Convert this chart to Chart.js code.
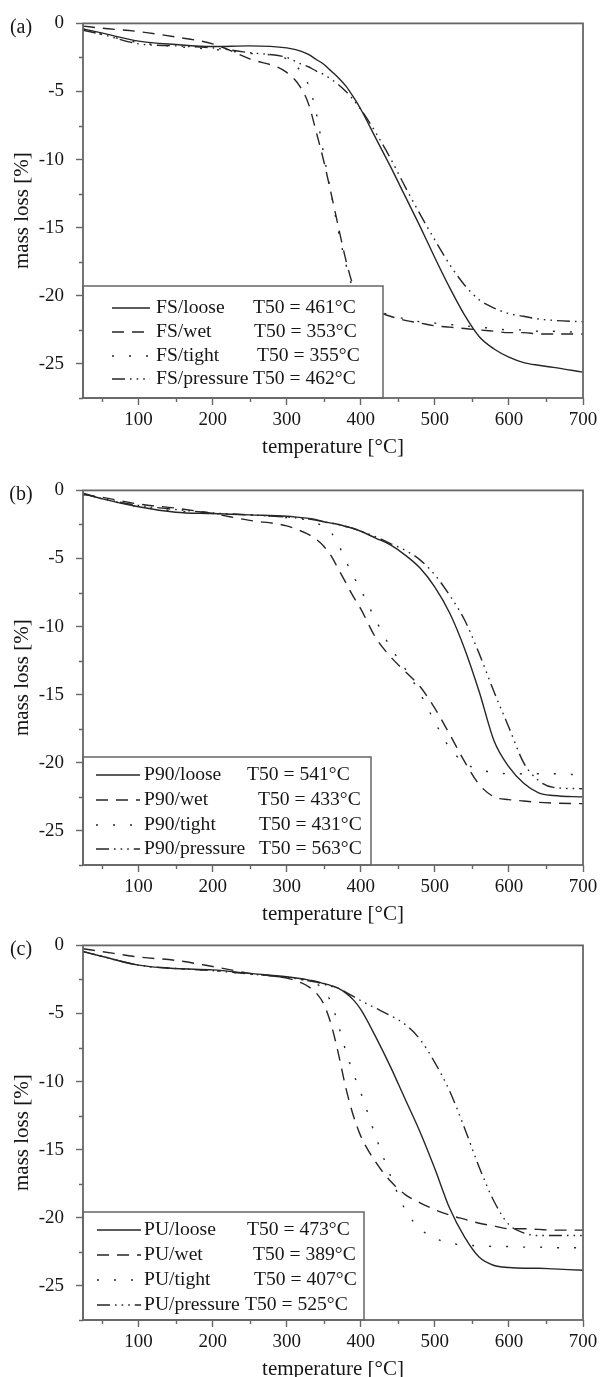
<!DOCTYPE html>
<html>
<head>
<meta charset="utf-8">
<script src="https://cdn.jsdelivr.net/npm/chart.js@4.4.1/dist/chart.umd.min.js"></script>
<style>
  html, body { margin: 0; padding: 0; background: #fff; }
  body { width: 604px; height: 1377px; overflow: hidden; position: relative; }
  canvas { position: absolute; left: 0; }
</style>
</head>
<body>
<canvas id="panelA" width="604" height="460" style="top:0px"></canvas>
<canvas id="panelB" width="604" height="460" style="top:467px"></canvas>
<canvas id="panelC" width="604" height="460" style="top:922px"></canvas>
<script>
// ---------- data ----------
const temps = [25, 50, 100, 150, 200, 250, 300, 320, 330, 340, 350, 360, 370, 380, 390, 400, 420, 440, 460, 480, 500, 520, 540, 560, 580, 600, 620, 640, 660, 700];
const xTickLabels = [100, 200, 300, 400, 500, 600, 700];
const yTickLabels = [0, -5, -10, -15, -20, -25];
const conditions = ['loose', 'wet', 'tight', 'pressure'];

// (a) FS
const fsLoose    = [-0.4, -0.7, -1.3, -1.55, -1.7, -1.65, -1.8, -2.05, -2.3, -2.65, -3.0, -3.5, -4.0, -4.6, -5.4, -6.3, -8.4, -10.5, -12.7, -14.9, -17.2, -19.4, -21.4, -23.0, -23.9, -24.5, -24.9, -25.1, -25.25, -25.6];
const fsWet      = [-0.2, -0.35, -0.6, -1.0, -1.5, -2.6, -3.6, -4.8, -6.0, -8.0, -10.1, -12.5, -15.0, -17.4, -19.3, -20.4, -21.1, -21.5, -21.8, -22.0, -22.2, -22.3, -22.4, -22.5, -22.6, -22.7, -22.7, -22.8, -22.8, -22.8];
const fsTight    = [-0.4, -0.8, -1.4, -1.7, -1.9, -2.2, -2.6, -3.6, -4.6, -6.6, -9.6, -12.5, -15.3, -17.7, -19.6, -20.6, -21.1, -21.4, -21.7, -21.9, -22.0, -22.1, -22.2, -22.3, -22.4, -22.5, -22.5, -22.6, -22.6, -22.7];
const fsPressure = [-0.5, -0.8, -1.5, -1.65, -1.8, -2.15, -2.5, -3.0, -3.2, -3.5, -3.75, -4.1, -4.5, -5.0, -5.6, -6.3, -8.0, -9.9, -12.0, -14.0, -15.9, -17.7, -19.2, -20.3, -20.9, -21.3, -21.5, -21.7, -21.8, -21.9];
const fsT50 = [461, 353, 355, 462];

// (b) P90
const p90Loose    = [-0.2, -0.6, -1.2, -1.6, -1.7, -1.8, -1.9, -2.0, -2.05, -2.15, -2.3, -2.4, -2.5, -2.65, -2.8, -3.0, -3.5, -4.0, -4.75, -5.7, -7.1, -9.0, -11.6, -14.8, -18.4, -20.3, -21.5, -22.2, -22.4, -22.5];
const p90Wet      = [-0.3, -0.5, -1.0, -1.3, -1.7, -2.2, -2.6, -3.0, -3.25, -3.6, -4.1, -4.8, -5.8, -6.8, -7.8, -8.7, -10.8, -12.2, -13.3, -14.4, -16.0, -17.9, -19.9, -21.6, -22.5, -22.7, -22.8, -22.9, -22.95, -23.0];
const p90Tight    = [-0.3, -0.6, -1.2, -1.5, -1.7, -1.8, -2.0, -2.1, -2.2, -2.4, -2.65, -3.1, -4.0, -5.2, -6.3, -7.3, -9.5, -11.5, -13.1, -14.9, -17.0, -18.9, -20.0, -20.5, -20.7, -20.8, -20.8, -20.8, -20.8, -20.9];
const p90Pressure = [-0.25, -0.6, -1.1, -1.4, -1.65, -1.8, -1.95, -2.05, -2.1, -2.2, -2.3, -2.4, -2.5, -2.65, -2.8, -3.0, -3.4, -3.9, -4.4, -5.1, -6.2, -7.7, -9.5, -12.0, -14.8, -17.4, -20.0, -21.3, -21.8, -21.9];
const p90T50 = [541, 433, 431, 563];

// (c) PU
const puLoose    = [-0.45, -0.8, -1.45, -1.7, -1.8, -2.05, -2.3, -2.45, -2.55, -2.65, -2.8, -2.95, -3.15, -3.5, -4.0, -4.7, -6.7, -8.9, -11.3, -13.7, -16.4, -19.3, -21.4, -22.9, -23.5, -23.65, -23.7, -23.7, -23.75, -23.85];
const puWet      = [-0.25, -0.45, -0.85, -1.1, -1.55, -2.05, -2.4, -2.75, -3.05, -3.5, -4.3, -5.8, -8.0, -10.5, -12.5, -14.0, -15.9, -17.3, -18.3, -18.9, -19.4, -19.8, -20.1, -20.4, -20.6, -20.8, -20.8, -20.85, -20.9, -20.9];
const puTight    = [-0.45, -0.8, -1.45, -1.7, -1.85, -2.1, -2.35, -2.5, -2.6, -2.8, -3.3, -4.2, -5.9, -7.8, -9.4, -10.8, -14.0, -16.9, -19.4, -20.8, -21.5, -21.85, -22.0, -22.05, -22.1, -22.1, -22.15, -22.15, -22.2, -22.2];
const puPressure = [-0.45, -0.8, -1.45, -1.7, -1.85, -2.1, -2.35, -2.5, -2.6, -2.7, -2.85, -3.0, -3.15, -3.45, -3.75, -4.05, -4.6, -5.15, -5.8, -6.9, -8.6, -10.7, -13.4, -16.3, -18.8, -20.5, -21.1, -21.3, -21.3, -21.3];
const puT50 = [473, 389, 407, 525];

// ---------- styles ----------
const SERIF = "'Liberation Serif', 'Times New Roman', serif";
const TEXT = '#161616';
const FRAME = '#666666';
const LINE = '#262626';
const dashes = [[], [12, 8], [2, 15], [13, 5, 1.6, 5, 1.6, 5, 1.6, 5]];

const isMajorX = v => xTickLabels.includes(v);
const isMajorY = v => yTickLabels.some(t => Math.abs(t - v) < 1e-6);

const decor = {
  id: 'decor',
  afterDatasetsDraw(chart, args, o) {
    const { ctx, chartArea: a } = chart;
    const L = o.legend;
    ctx.save();
    // legend box
    ctx.fillStyle = '#fff';
    ctx.fillRect(a.left, L.top, L.right - a.left, a.bottom - L.top);
    ctx.strokeStyle = FRAME;
    ctx.lineWidth = 1.5;
    ctx.strokeRect(a.left, L.top, L.right - a.left, a.bottom - L.top);
    chart.data.datasets.forEach((d, i) => {
      const y = L.rows[i];
      ctx.setLineDash(d.borderDash);
      ctx.lineWidth = d.borderWidth;
      ctx.strokeStyle = d.borderColor;
      ctx.beginPath();
      ctx.moveTo(L.x0, y);
      ctx.lineTo(L.x1, y);
      ctx.stroke();
      ctx.setLineDash([]);
      ctx.fillStyle = TEXT;
      ctx.font = '19.6px ' + SERIF;
      ctx.textBaseline = 'middle';
      ctx.textAlign = 'left';
      ctx.fillText(d.label, L.tx, y);
      ctx.fillText('T50 = ' + o.t50[i] + '°C', L.t50x[i], y);
    });
    // minor ticks (shorter)
    ctx.setLineDash([]);
    ctx.strokeStyle = FRAME;
    ctx.lineWidth = 1.4;
    const xs = chart.scales.x, ys = chart.scales.y;
    ctx.beginPath();
    xs.ticks.forEach(t => {
      if (!isMajorX(t.value)) {
        const px = Math.round(xs.getPixelForValue(t.value)) + 0.5;
        ctx.moveTo(px, a.bottom); ctx.lineTo(px, a.bottom + 4);
      }
    });
    ys.ticks.forEach(t => {
      if (!isMajorY(t.value)) {
        const py = Math.round(ys.getPixelForValue(t.value)) + 0.5;
        ctx.moveTo(a.left, py); ctx.lineTo(a.left - 4, py);
      }
    });
    ctx.stroke();
    // plot frame
    ctx.lineWidth = 1.8;
    ctx.strokeRect(a.left, a.top, a.right - a.left, a.bottom - a.top);
    // panel label
    ctx.fillStyle = TEXT;
    ctx.font = '20px ' + SERIF;
    ctx.textAlign = 'center';
    ctx.textBaseline = 'middle';
    ctx.fillText(o.label, 21, a.top + 4);
    ctx.restore();
  }
};

function buildPanel(id, label, prefix, series, t50, legend) {
  const datasets = series.map((vals, i) => ({
    label: prefix + '/' + conditions[i],
    data: temps.map((t, j) => ({ x: t, y: vals[j] })),
    borderColor: LINE,
    borderWidth: 1.4,
    borderDash: dashes[i],
    pointRadius: 0,
    fill: false,
    cubicInterpolationMode: 'monotone'
  }));
  const tickFont = { family: SERIF, size: 19 };
  const titleFont = { family: SERIF, size: 21 };
  new Chart(document.getElementById(id), {
    type: 'line',
    data: { datasets },
    options: {
      responsive: false,
      animation: false,
      events: [],
      layout: { padding: { top: 18, right: 21, left: 0, bottom: 0 } },
      plugins: {
        legend: { display: false },
        tooltip: { enabled: false },
        decor: { label, t50, legend }
      },
      scales: {
        x: {
          type: 'linear', min: 25, max: 700,
          afterFit: s => { s.height = 62; },
          ticks: {
            stepSize: 50, includeBounds: false, autoSkip: false, maxRotation: 0, minRotation: 0,
            padding: 4, color: TEXT, font: tickFont,
            callback: v => isMajorX(v) ? String(v) : ''
          },
          grid: {
            drawOnChartArea: false, drawTicks: true, tickLength: 7, tickWidth: 1.4,
            tickColor: c => (c.tick && isMajorX(c.tick.value)) ? FRAME : 'rgba(0,0,0,0)'
          },
          border: { display: false },
          title: { display: true, text: 'temperature [°C]', color: TEXT, font: titleFont, padding: { top: 0, bottom: 0 } }
        },
        y: {
          type: 'linear', min: -27.5, max: 0,
          afterFit: s => { s.width = 83; },
          ticks: {
            stepSize: 2.5, includeBounds: false, autoSkip: false,
            padding: 12, color: TEXT, font: tickFont,
            callback: v => isMajorY(v) ? String(Math.round(v)) : ''
          },
          grid: {
            drawOnChartArea: false, drawTicks: true, tickLength: 7, tickWidth: 1.4,
            tickColor: c => (c.tick && isMajorY(c.tick.value)) ? FRAME : 'rgba(0,0,0,0)'
          },
          border: { display: false },
          title: { display: true, text: 'mass loss [%]', color: TEXT, font: titleFont, padding: { top: 10, bottom: 0 } }
        }
      }
    },
    plugins: [decor]
  });
}

buildPanel('panelA', '(a)', 'FS', [fsLoose, fsWet, fsTight, fsPressure], fsT50,
  { top: 286, right: 383, rows: [308, 332, 356, 379], x0: 112, x1: 150, tx: 156, t50x: [253, 254, 257, 253] });
buildPanel('panelB', '(b)', 'P90', [p90Loose, p90Wet, p90Tight, p90Pressure], p90T50,
  { top: 290, right: 371, rows: [308, 333, 358, 382], x0: 96, x1: 140, tx: 144, t50x: [247, 258, 259, 259] });
buildPanel('panelC', '(c)', 'PU', [puLoose, puWet, puTight, puPressure], puT50,
  { top: 290, right: 364, rows: [308, 333, 358, 383], x0: 97, x1: 141, tx: 144, t50x: [247, 253, 254, 245] });
</script>
</body>
</html>
